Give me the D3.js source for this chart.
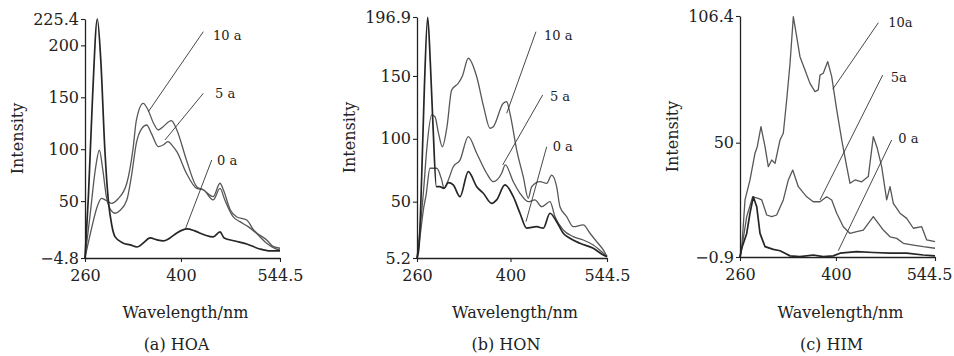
<!DOCTYPE html>
<html>
<head>
<meta charset="utf-8">
<script src="https://cdn.jsdelivr.net/npm/d3@7"></script>
<style>
  body { margin: 0; background: #fff; }
  text { font-family: "DejaVu Serif", serif; fill: #222; }
</style>
</head>
<body>
<svg width="954" height="356"></svg>
<script>
// wavelength (nm), intensity pairs
const hoa0a = [[260,-4.8],[265,55],[271,150],[278,225.4],[283,186],[289,99],[294,51],[299,27],[304,15.5],[315,9.7],[326,7.8],[336,5.8],[345,9.7],[355,14.5],[365,12.6],[374,11.6],[384,14.5],[394,19.3],[409,23.2],[420,21.3],[435,17.3],[447,15.5],[457,20.3],[463,14.5],[479,11.6],[496,8.7],[515,3.9],[530,2],[544.5,2]]
const hoa5a = [[260,-4.8],[268,40],[275,80],[281,99],[286,80],[291,55],[297,42],[304,38.3],[311,41],[321,51],[328,75],[335,106],[343,120],[350,123.3],[357,115],[367,102.4],[374,104],[381,107.2],[388,103],[394,97.6],[408,76.8],[423,62.2],[433,60.7],[447,51.1],[457,62.2],[464,51.1],[476,35],[486,30.2],[498,25.4],[510,19],[525,9.4],[540,3.6],[544.5,3]]
const hoa10a = [[260,-4.8],[270,25],[278,45],[284,52.7],[290,51],[299,47.9],[308,52],[321,67.2],[330,100],[335,128],[345,144.2],[352,137.8],[360,125],[367,118.5],[374,121.7],[386,127.5],[394,118.5],[408,89.6],[423,63.9],[433,60.7],[447,54.3],[457,67.2],[462,60.7],[472,41.5],[481,35],[496,31.8],[506,22.2],[525,12.6],[535,6.1],[544.5,4.6]]

const hon0a = [[260,5.2],[263,14],[267,70],[271,140],[276,196.7],[280,160],[284,110],[289,62],[294,62],[300.4,60.6],[306.9,65.1],[314.3,63.3],[324.4,54],[336.8,73.9],[349.4,61.9],[359.3,56.7],[371.8,48.7],[379.3,51.4],[391.7,63.3],[404.2,54],[414.2,40.8],[424.2,28.9],[439.2,30.1],[449.1,28.9],[459.1,40.8],[469.1,34.1],[479,24.9],[489,20.9],[504,16.9],[523.9,12.9],[538.9,7.6],[544.5,6.3]]
const hon5a = [[260,5.2],[264,20],[270,45],[273.5,55],[279.5,76.6],[289.5,76.6],[297,67.3],[300.4,60.6],[306.9,67.3],[314.3,77.8],[324.4,83.1],[336.8,101.7],[349.4,88.5],[364.3,72.6],[374.2,65.9],[386.8,72.6],[392.2,79.2],[404.2,65.9],[414.2,56.7],[426.6,50],[436.6,51.4],[446.7,46],[459.1,50],[466.6,38.1],[479,27.5],[494,22.2],[509,19.5],[523.9,15.6],[538.9,9],[544.5,6.3]]
const hon10a = [[260,5.2],[264,25],[270,60],[274.5,91.1],[282,119],[286.9,117.6],[292,105],[297.9,93.7],[305,110],[311.9,138.8],[321.8,144.2],[328,150],[336.8,164.1],[349.4,149.4],[360,125],[369.3,108.4],[374.2,109.6],[389.2,128.3],[394.3,129.5],[399.2,120.3],[409.3,91.1],[419.1,69.9],[426.6,52.7],[431.7,61.9],[444.1,65.9],[454.2,64.6],[461.6,71.2],[469.1,61.9],[474.1,46],[484.1,38.1],[494,30.1],[509,31.5],[519,24.9],[529,18.2],[538.9,11.6],[544.5,6.3]]

const him0a = [[260,-0.9],[262.5,3],[269.8,9.6],[274.6,18.6],[279.4,25.9],[284.4,21.5],[289.2,9.6],[296.5,3.7],[308.6,2.5],[318.4,1.9],[333,-0.4],[347.5,-0.7],[366.9,0],[381.5,-0.7],[396.1,-0.4],[405.9,0.8],[430.3,1.5],[454.5,1.1],[478.9,0.8],[503.2,0.8],[527.4,0],[544.5,-0.4]]
const him5a = [[260,-0.9],[262.5,3],[269.8,17.1],[278.5,25.9],[286.7,25.2],[291.7,24.5],[299,17.8],[306.3,17.1],[313.5,17.8],[323.2,24.5],[330.5,33.4],[336.9,37.8],[345.1,30.4],[357.3,25.9],[366.9,23.7],[376.7,23.7],[386.5,25.9],[393.8,24.5],[401.1,18.6],[410.7,12.6],[420.5,9.6],[430.3,10.4],[439.9,11.1],[447.2,14.1],[454.5,17.1],[461.8,14.1],[469.1,11.1],[478.9,8.1],[488.6,7.4],[498.3,5.2],[512.9,4.4],[527.4,3.7],[544.5,3]]
const him10a = [[260,-0.9],[262.5,3],[267.3,24.5],[274.6,33.4],[281.9,45.3],[285.2,48.2],[290.6,57.1],[296.5,48.2],[301.3,39.3],[306.3,42.3],[311.1,40.8],[318.4,51.2],[323.2,54.2],[328.1,69],[333,85.3],[337.8,106.1],[342.7,97.2],[347.5,88.3],[354.8,82.4],[362.1,76.4],[369.4,72.7],[374.2,73.5],[376.7,80.1],[381.5,80.9],[388,86.1],[393.8,79.4],[401.1,64.6],[408.4,51.2],[415.7,39.3],[420.5,31.9],[427.8,33.4],[437.6,32.6],[447.2,34.9],[454.5,52.7],[460.3,47.5],[466.7,39.3],[474,24.5],[478.9,30.4],[483.7,23],[493.4,18.6],[503.2,16.3],[512.9,11.9],[525.1,12.6],[532.4,6.7],[544.5,5.9]]

const xTicks = [260, 400, 544.5]
const hoaTicks = [-4.8, 50, 100, 150, 200, 225.4]
const honTicks = [5.2, 50, 100, 150, 196.9]
const himTicks = [-0.9, 50, 106.4]

// leader lines: label point -> point on the curve (data units)
const hoaNotes = [
    { label: '10 a', lx: 446.8, ly: 210, x1: 432.6, y1: 213.2, x2: 352.4, y2: 136.1 },
    { label: '5 a', lx: 449.7, ly: 154.1, x1: 432.6, y1: 153.8, x2: 376.7, y2: 108.9 },
    { label: '0 a', lx: 452.6, ly: 89.6, x1: 444.9, y1: 89.6, x2: 405.9, y2: 22.2 },
]
const honNotes = [
    { label: '10 a', lx: 450.1, ly: 182.6, x1: 438.1, y1: 185.2, x2: 394.3, y2: 120.3 },
    { label: '5 a', lx: 459.1, ly: 133.5, x1: 448.2, y1: 134.9, x2: 388.3, y2: 79.2 },
    { label: '0 a', lx: 463.1, ly: 94.3, x1: 454.2, y1: 93.7, x2: 423.2, y2: 34.1 },
]
const himNotes = [
    { label: '10a', lx: 476.4, ly: 103.4, x1: 461.8, y1: 103.4, x2: 395.3, y2: 73.8 },
    { label: '5a', lx: 479.9, ly: 79.1, x1: 468.2, y1: 80.1, x2: 376.7, y2: 24.5 },
    { label: '0 a', lx: 491, ly: 52, x1: 481.3, y1: 51.2, x2: 403.4, y2: 1.9 },
]

const panels = [
    { left: 85, width: 195, top: 19, bottom: 258, yTicks: hoaTicks, series: [hoa10a, hoa5a, hoa0a], notes: hoaNotes, caption: '(a) HOA', curve: d3.curveMonotoneX },
    { left: 417, width: 190, top: 17, bottom: 258, yTicks: honTicks, series: [hon10a, hon5a, hon0a], notes: honNotes, caption: '(b) HON', curve: d3.curveMonotoneX },
    { left: 740, width: 195, top: 16, bottom: 257, yTicks: himTicks, series: [him10a, him5a, him0a], notes: himNotes, caption: '(c) HIM', curve: d3.curveLinear },
]

const svg = d3.select('svg')
const W = +svg.attr('width')

panels.forEach((p) => {
    const g = svg.append('g')
    const yDomain = d3.extent(p.yTicks)

    const xScale = d3.scaleLinear().domain([260, 544.5]).range([p.left, p.left + p.width])
    const yScale = d3.scaleLinear().domain(yDomain).range([p.bottom, p.top])

    const line = d3
        .line()
        .x((d) => xScale(d[0]))
        .y((d) => yScale(d[1]))
        .curve(p.curve)

    // curves
    g.selectAll('path.data')
        .data(p.series)
        .enter()
        .append('path')
        .attr('class', 'data')
        .attr('d', (d) => line(d))
        .style('fill', 'none')
        .style('stroke', (d, i) => (i === 2 ? '#262626' : '#575757'))
        .style('stroke-width', (d, i) => (i === 2 ? 1.7 : 1.3))
        .style('stroke-linejoin', 'round')

    // axes
    const xAxis = d3
        .axisBottom(xScale)
        .tickValues(xTicks)
        .tickSize(4)
        .tickSizeOuter(0)
        .tickPadding(8)
        .tickFormat((d) => d)

    const yAxis = d3
        .axisLeft(yScale)
        .tickValues(p.yTicks)
        .tickSize(4)
        .tickSizeOuter(0)
        .tickPadding(2)
        .tickFormat(d3.format(''))

    const xg = g.append('g').attr('transform', `translate(0, ${p.bottom})`).call(xAxis)
    const yg = g.append('g').attr('transform', `translate(${p.left}, 0)`).call(yAxis)

    ;[xg, yg].forEach((a) => {
        a.selectAll('path.domain').style('stroke', '#222').style('stroke-width', 1.3)
        a.selectAll('.tick line').style('stroke', '#222').style('stroke-width', 1.1)
        a.selectAll('.tick text')
            .style('font-family', '"DejaVu Serif", serif')
            .style('font-size', '16px')
            .style('fill', '#222')
    })

    // keep the last x label inside the page
    xg.selectAll('.tick text').each(function (d) {
        const t = d3.select(this)
        const box = this.getBBox()
        const right = xScale(d) + box.width / 2
        if (right > W - 2) t.attr('x', W - 2 - right)
    })

    // leader lines and labels
    const notes = g.selectAll('g.note').data(p.notes).enter().append('g').attr('class', 'note')
    notes
        .append('line')
        .attr('x1', (d) => xScale(d.x1))
        .attr('y1', (d) => yScale(d.y1))
        .attr('x2', (d) => xScale(d.x2))
        .attr('y2', (d) => yScale(d.y2))
        .style('stroke', '#333')
        .style('stroke-width', 0.9)
    notes
        .append('text')
        .attr('x', (d) => xScale(d.lx))
        .attr('y', (d) => yScale(d.ly))
        .attr('dy', '0.35em')
        .style('font-size', '13px')
        .text((d) => d.label)

    // titles
    const cx = p.left + p.width / 2
    g.append('text')
        .attr('transform', `translate(${p.left - 62}, ${(p.top + p.bottom) / 2}) rotate(-90)`)
        .style('text-anchor', 'middle')
        .style('font-size', '16px')
        .text('Intensity')

    g.append('text')
        .attr('x', cx + 3)
        .attr('y', 318)
        .style('text-anchor', 'middle')
        .style('font-size', '16px')
        .text('Wavelength/nm')

    g.append('text')
        .attr('x', cx - 6)
        .attr('y', 350)
        .style('text-anchor', 'middle')
        .style('font-size', '16px')
        .text(p.caption)
})
</script>
</body>
</html>
